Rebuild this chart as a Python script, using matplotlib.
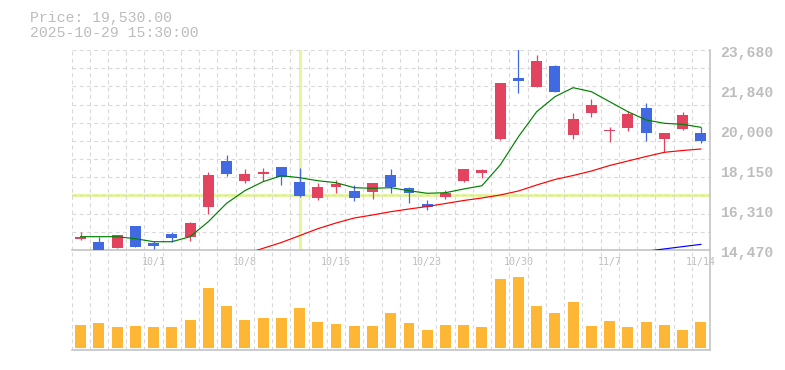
"""Daily candlestick chart with 5/25/75-day moving averages and volume panel."""
import matplotlib
matplotlib.use("Agg")
import matplotlib.pyplot as plt  # noqa: E402
import numpy as np  # noqa: E402
from matplotlib.transforms import ScaledTranslation  # noqa: E402

nan = np.nan

# trading days 9/25 .. 11/14
dates = ["9/25", "9/26", "9/29", "9/30", "10/1", "10/2", "10/3", "10/6", "10/7", "10/8",
         "10/9", "10/10", "10/14", "10/15", "10/16", "10/17", "10/20", "10/21", "10/22",
         "10/23", "10/24", "10/27", "10/28", "10/29", "10/30", "10/31", "11/4", "11/5",
         "11/6", "11/7", "11/10", "11/11", "11/12", "11/13", "11/14"]
tick_dates = ["10/1", "10/8", "10/16", "10/23", "10/30", "11/7", "11/14"]

opens = [14990, 14850, 14580, 15575, 14806, 15220, 15083, 16464, 18582, 17661,
         17980, 18292, 17601, 16879, 17385, 17187, 17155, 17924, 17325, 16602,
         16925, 17661, 18030, 19600, 22405, 21990, 22943, 19766, 20793, 19930,
         20102, 20995, 19595, 20056, 19842]
highs = [15290, 15080, 15170, 15580, 14884, 15313, 15773, 18076, 18845, 18200,
         18246, 18292, 18246, 17541, 17694, 17463, 17541, 18200, 17385, 16772,
         17233, 18210, 18200, 22147, 23900, 23450, 22990, 20793, 21423, 20120,
         20871, 21226, 19850, 20811, 20120]
lows = [14930, 14440, 14570, 14610, 14530, 14852, 14898, 16114, 17878, 17569,
        17661, 17463, 16925, 16772, 17109, 16726, 16819, 17109, 16648, 16312,
        16819, 17615, 17772, 19530, 21686, 21990, 21760, 19568, 20608, 19457,
        19964, 19503, 18969, 20000, 19411]
closes = [15060, 14450, 15160, 14620, 14668, 15036, 15727, 17924, 17984, 17970,
          18040, 17845, 16971, 17371, 17509, 16879, 17541, 17385, 17109, 16464,
          17081, 18200, 18154, 22147, 22266, 23173, 21760, 20503, 21147, 19990,
          20733, 19872, 19842, 20687, 19503]
volumes = [681000, 741000, 621000, 651000, 621000, 621000, 831000, 1791000, 1251000, 831000,
           891000, 891000, 1191000, 771000, 711000, 651000, 651000, 1041000, 741000, 531000,
           681000, 681000, 621000, 2061000, 2121000, 1251000, 1041000, 1371000, 651000, 801000,
           621000, 771000, 681000, 531000, 771000]

ma5 = [15083, 15083, 15083, 14990, 14852, 14852, 15083, 15773, 16620, 17201,
       17615, 17891, 17800, 17661, 17569, 17339, 17311, 17339, 17201, 17081,
       17109, 17279, 17431, 18384, 19688, 20839, 21530, 21944, 21760, 21299,
       20839, 20457, 20304, 20258, 20120]
ma25 = [nan] * 9 + [14272, 14548, 14815, 15130, 15451, 15713, 15944, 16082, 16234, 16358,
                    16473, 16611, 16750, 16865, 17003, 17187, 17463, 17717, 17901, 18108,
                    18361, 18568, 18776, 18969, 19052, 19121]
ma75 = [nan] * 31 + [14410, 14520, 14625, 14730]

ylabels = [14470, 16310, 18150, 20000, 21840, 23680]
header_price = "Price: 19,530.00"
header_time = "2025-10-29 15:30:00"
cross_date = "10/14"
cross_price = 17000

UP = "#e2435f"
DOWN = "#4169e1"
GRID = "#d9d9d9"
AXIS = "#c4c4c4"
TXT = "#bdbdbd"
MONO = "Liberation Mono"

W, H = 785, 370


def px_axes(fig, left, top, right, bottom):
    return fig.add_axes([left / W, 1 - bottom / H, (right - left) / W, (bottom - top) / H])


def style_grid(ax, n):
    ax.set_xlim(-0.5, n - 0.5)
    ax.set_xticks(np.arange(-0.5, n, 1.0), minor=True)
    ax.grid(which="minor", axis="x", color=GRID, lw=0.8, ls=(0, (3.5, 3)))
    ax.tick_params(which="both", length=0)
    for s in ("top", "left"):
        ax.spines[s].set_visible(False)
    for s in ("bottom", "right"):
        ax.spines[s].set_color(AXIS)
        ax.spines[s].set_linewidth(1.2)
    ax.set_facecolor("none")


def main():
    n = len(dates)
    x = np.arange(n)
    o, h, l, c = map(np.array, (opens, highs, lows, closes))
    colors = np.where(c >= o, UP, DOWN)

    fig = plt.figure(figsize=(W / 100, H / 100), dpi=100)
    ax = px_axes(fig, 71.5, 50, 710, 250)
    style_grid(ax, n)
    ymin, ymax = ylabels[0], ylabels[-1]
    ax.set_ylim(ymin, ymax)
    ax.set_yticks(np.linspace(ymin, ymax, 12), minor=True)
    ax.set_yticks([])
    ax.grid(which="minor", axis="y", color=GRID, lw=0.8, ls=(0, (3.5, 3)))

    # crosshair
    ax.axvline(dates.index(cross_date), color="#e6f5a3", lw=2.3, zorder=1)
    ax.axhline(cross_price, color="#e6f5a3", lw=2.3, zorder=1)

    # candles
    ax.vlines(x, l, h, colors=colors, lw=0.9, zorder=3)
    body = np.maximum(np.abs(c - o), 60)
    ax.bar(x, body, bottom=np.minimum(o, c), width=0.6, color=colors, zorder=4)

    ax.plot(x, ma5, color="#008000", lw=0.85, zorder=5)
    ax.plot(x, ma25, color="#ff0000", lw=0.85, zorder=5)
    ax.plot(x, ma75, color="#0000ff", lw=0.85, zorder=5)

    ax.set_xticks([dates.index(d) for d in tick_dates])
    ax.set_xticklabels(tick_dates, fontsize=7.2, color=TXT, family="DejaVu Sans Mono")
    ax.tick_params(axis="x", pad=5)

    off = ScaledTranslation(10 / 100, -3.3 / 100, fig.dpi_scale_trans)
    for v in ylabels:
        ax.text(1, v, f"{v:,}", transform=ax.get_yaxis_transform() + off,
                ha="left", va="center", fontsize=10.6, color=TXT, family=MONO,
                fontweight="bold", clip_on=False)

    # volume panel
    axv = px_axes(fig, 71.5, 250, 710, 350)
    style_grid(axv, n)
    k = 30000  # volume per pixel
    axv.set_ylim(-2.3 * k, 97.7 * k)
    axv.set_yticks([])
    axv.set_xticks([])
    axv.bar(x, volumes, width=0.6, color="#fdb735", zorder=3)

    fig.text(30 / W, 1 - 18 / H, header_price, fontsize=10.7, color=TXT, family=MONO,
             va="center")
    fig.text(30 / W, 1 - 33 / H, header_time, fontsize=10.7, color=TXT, family=MONO,
             va="center")

    fig.savefig("out.png", dpi=100)
    plt.close(fig)


if __name__ == "__main__":
    main()
